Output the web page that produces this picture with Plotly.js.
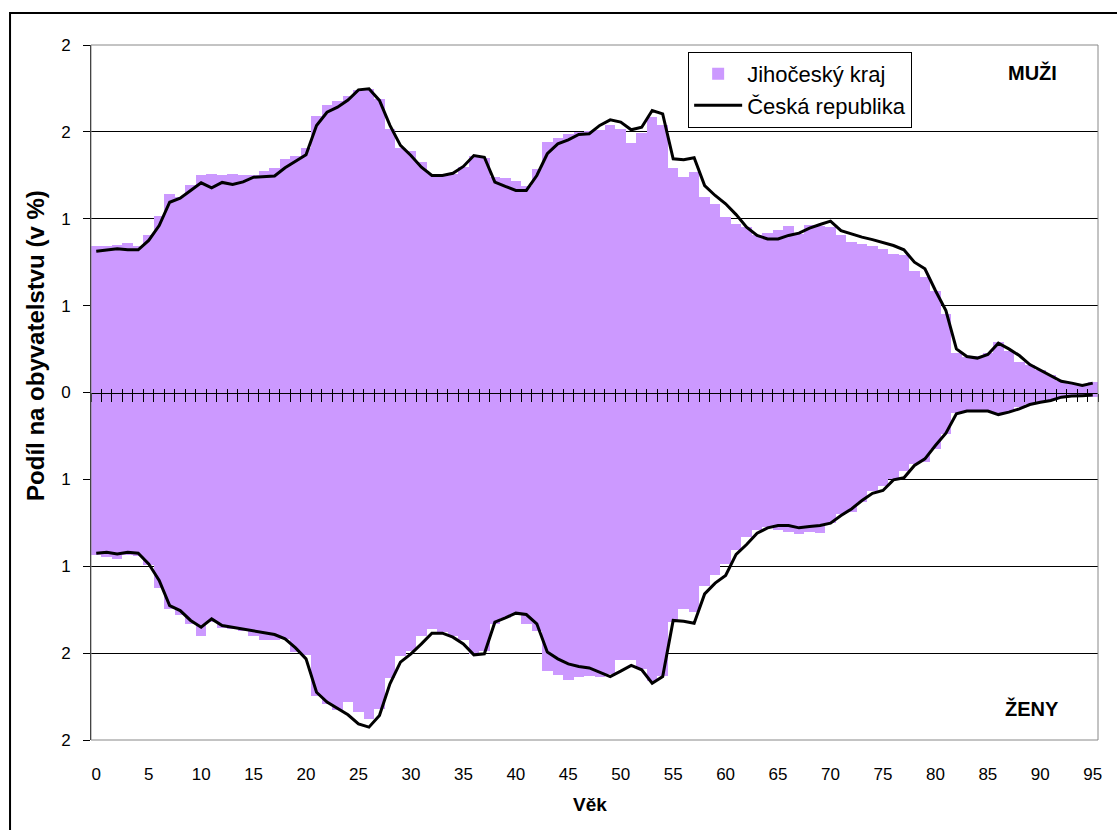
<!DOCTYPE html>
<html>
<head>
<meta charset="utf-8">
<script src="https://cdn.plot.ly/plotly-3.0.1.min.js"></script>
<style>
html,body{margin:0;padding:0;background:#fff;}
#chart{width:1117px;height:830px;}
</style>
</head>
<body>
<div id="chart"></div>
<script>
// Age categories (years); 95 = 95+
const ages = [0,1,2,3,4,5,6,7,8,9,10,11,12,13,14,15,16,17,18,19,20,21,22,23,24,25,26,27,28,29,
  30,31,32,33,34,35,36,37,38,39,40,41,42,43,44,45,46,47,48,49,50,51,52,53,54,55,56,57,58,59,
  60,61,62,63,64,65,66,67,68,69,70,71,72,73,74,75,76,77,78,79,80,81,82,83,84,85,86,87,88,89,
  90,91,92,93,94,95];

// Share of population (%), Jihočeský kraj – men
const krajMuzi = [0.842,0.842,0.850,0.863,0.844,0.906,1.015,1.140,1.124,1.197,
  1.251,1.259,1.253,1.259,1.249,1.249,1.274,1.291,1.345,1.360,
  1.408,1.589,1.656,1.677,1.704,1.740,1.745,1.690,1.518,1.410,
  1.389,1.326,1.260,1.250,1.255,1.300,1.360,1.350,1.240,1.236,
  1.220,1.186,1.287,1.441,1.466,1.489,1.497,1.503,1.512,1.537,
  1.518,1.435,1.493,1.585,1.537,1.293,1.239,1.268,1.128,1.086,
  1.009,0.971,0.950,0.904,0.917,0.936,0.961,0.913,0.965,0.959,
  0.952,0.909,0.865,0.856,0.846,0.827,0.798,0.789,0.698,0.664,
  0.587,0.453,0.226,0.207,0.210,0.226,0.290,0.240,0.175,0.157,
  0.127,0.098,0.069,0.050,0.046,0.058];

// Share of population (%), Jihočeský kraj – women
const krajZeny = [0.938,0.948,0.957,0.938,0.940,0.990,1.124,1.245,1.283,1.331,
  1.404,1.320,1.354,1.360,1.370,1.399,1.427,1.427,1.420,1.494,
  1.510,1.744,1.790,1.830,1.782,1.840,1.878,1.819,1.642,1.519,
  1.490,1.404,1.360,1.380,1.400,1.423,1.504,1.490,1.330,1.300,
  1.278,1.330,1.370,1.604,1.623,1.654,1.640,1.630,1.640,1.620,
  1.539,1.539,1.590,1.660,1.630,1.320,1.245,1.264,1.111,1.053,
  0.986,0.906,0.833,0.794,0.775,0.790,0.804,0.817,0.804,0.810,
  0.750,0.700,0.689,0.630,0.565,0.540,0.500,0.449,0.414,0.401,
  0.324,0.238,0.120,0.107,0.107,0.107,0.122,0.110,0.084,0.065,
  0.055,0.046,0.030,0.023,0.017,0.023];

// Share of population (%), Česká republika – men
const crMuzi = [0.813,0.821,0.827,0.821,0.821,0.875,0.961,1.095,1.118,1.163,
  1.207,1.178,1.209,1.197,1.212,1.239,1.243,1.246,1.293,1.329,
  1.368,1.537,1.613,1.642,1.683,1.742,1.748,1.681,1.537,1.422,
  1.364,1.297,1.249,1.249,1.262,1.301,1.364,1.354,1.211,1.186,
  1.163,1.163,1.249,1.374,1.431,1.454,1.485,1.489,1.537,1.569,
  1.556,1.512,1.527,1.623,1.604,1.345,1.340,1.351,1.191,1.134,
  1.086,1.024,0.952,0.904,0.884,0.884,0.904,0.917,0.946,0.967,
  0.986,0.932,0.913,0.894,0.880,0.865,0.846,0.821,0.750,0.712,
  0.587,0.472,0.251,0.207,0.198,0.219,0.284,0.251,0.213,0.161,
  0.130,0.098,0.065,0.054,0.040,0.054];

// Share of population (%), Česká republika – women
const crZeny = [0.925,0.919,0.929,0.919,0.925,0.986,1.082,1.226,1.255,1.312,
  1.351,1.303,1.341,1.351,1.360,1.370,1.379,1.393,1.418,1.470,
  1.533,1.725,1.782,1.821,1.855,1.907,1.926,1.859,1.677,1.552,
  1.504,1.447,1.385,1.385,1.408,1.447,1.510,1.504,1.322,1.297,
  1.270,1.278,1.331,1.494,1.533,1.562,1.577,1.585,1.610,1.635,
  1.604,1.571,1.596,1.673,1.635,1.312,1.316,1.328,1.159,1.097,
  1.053,0.932,0.875,0.810,0.779,0.765,0.765,0.779,0.771,0.765,
  0.752,0.708,0.670,0.622,0.580,0.564,0.503,0.491,0.420,0.382,
  0.305,0.234,0.123,0.107,0.107,0.107,0.127,0.113,0.094,0.069,
  0.056,0.046,0.027,0.020,0.018,0.015];

// Axis ticks
const xTickVals = [0,5,10,15,20,25,30,35,40,45,50,55,60,65,70,75,80,85,90,95];
const xTickText = ['0','5','10','15','20','25','30','35','40','45','50','55','60','65','70','75','80','85','90','95'];
const yTickVals = [-2,-1.5,-1,-0.5,0,0.5,1,1.5,2];
const yTickText = ['2','2','1','1','0','1','1','2','2'];

const seriesKraj = 'Jihočeský kraj';
const seriesCR = 'Česká republika';

const zenyNeg = krajZeny.map(v => -v);
const crZenyNeg = crZeny.map(v => -v);
const boundaries = ages.map(a => a - 0.5).concat([ages[ages.length - 1] + 0.5]);

const FONT = 'Liberation Sans, Arial, sans-serif';
const PURPLE = '#CC99FF';

const traces = [
  {type:'bar', x:ages, y:krajMuzi, name:seriesKraj, legendgroup:'kraj',
   marker:{color:PURPLE, line:{width:0}}, hoverinfo:'x+y'},
  {type:'bar', x:ages, y:zenyNeg, name:seriesKraj, legendgroup:'kraj', showlegend:false,
   marker:{color:PURPLE, line:{width:0}}, hoverinfo:'x+y'},
  {type:'scatter', mode:'lines', x:ages, y:crMuzi, name:seriesCR, legendgroup:'cr',
   line:{color:'#000', width:3}},
  {type:'scatter', mode:'lines', x:ages, y:crZenyNeg, name:seriesCR, legendgroup:'cr', showlegend:false,
   line:{color:'#000', width:3}},
  // carriers for the zero-axis tick marks (draw nothing themselves)
  {type:'scatter', mode:'none', x:ages, y:crMuzi, xaxis:'x2', yaxis:'y', showlegend:false, hoverinfo:'skip'},
  {type:'scatter', mode:'none', x:ages, y:crMuzi, xaxis:'x3', yaxis:'y', showlegend:false, hoverinfo:'skip'}
];

const xr = [-0.5, 95.5];

const layout = {
  width:1117, height:830,
  margin:{l:91, r:19, t:45, b:90},
  paper_bgcolor:'#fff', plot_bgcolor:'#fff',
  font:{family:FONT, color:'#000', size:17},
  barmode:'overlay', bargap:0,
  showlegend:true,
  legend:{x:0.593, y:0.99, xanchor:'left', yanchor:'top',
    bgcolor:'#fff', bordercolor:'#000', borderwidth:1,
    font:{family:FONT, size:22, color:'#000'}, itemwidth:48, tracegroupgap:0},
  xaxis:{range:xr, tickmode:'array', tickvals:xTickVals, ticktext:xTickText,
    ticks:'', showline:false, showgrid:false, zeroline:false,
    tickfont:{family:FONT, size:17, color:'#000'}, ticklabelstandoff:22, fixedrange:true},
  xaxis2:{overlaying:'x', anchor:'free', position:0.5, range:xr,
    tickmode:'array', tickvals:boundaries, ticks:'outside', ticklen:8, tickwidth:1, tickcolor:'#000',
    showticklabels:false, showline:true, linecolor:'#000', linewidth:1, showgrid:false, zeroline:false},
  xaxis3:{overlaying:'x', anchor:'free', position:0.5, range:xr,
    tickmode:'array', tickvals:boundaries, ticks:'inside', ticklen:4, tickwidth:1, tickcolor:'#000',
    showticklabels:false, showline:false, showgrid:false, zeroline:false},
  yaxis:{range:[-2,2], tickmode:'array', tickvals:yTickVals, ticktext:yTickText,
    ticks:'outside', ticklen:7, tickwidth:1, tickcolor:'#000',
    showline:true, linecolor:'#000', linewidth:1,
    showgrid:true, gridcolor:'#000', gridwidth:1, zeroline:false,
    tickfont:{family:FONT, size:17, color:'#000'}, ticklabelstandoff:9, fixedrange:true},
  shapes:[
    {type:'rect', xref:'paper', yref:'paper', x0:0, x1:1, y0:0, y1:1,
     line:{color:'#888', width:1}, fillcolor:'rgba(0,0,0,0)', layer:'above'},
    {type:'rect', xref:'paper', yref:'paper', x0:-0.0804, x1:1.1, y0:-0.3, y1:1.046,
     line:{color:'#000', width:2}, fillcolor:'rgba(0,0,0,0)', layer:'below'}
  ],
  annotations:[
    {text:'<b>Podíl na obyvatelstvu (v %)</b>', xref:'paper', yref:'paper',
     x:-0.0546, y:0.567, textangle:-90, showarrow:false, xanchor:'center', yanchor:'middle',
     font:{family:FONT, size:24, color:'#000'}},
    {text:'<b>Věk</b>', xref:'paper', yref:'paper', x:0.4955, y:-0.0935,
     showarrow:false, xanchor:'center', yanchor:'middle', font:{family:FONT, size:19, color:'#000'}},
    {text:'<b>MUŽI</b>', xref:'paper', yref:'paper', x:0.9345, y:0.96,
     showarrow:false, xanchor:'center', yanchor:'middle', font:{family:FONT, size:20, color:'#000'}},
    {text:'<b>ŽENY</b>', xref:'paper', yref:'paper', x:0.9345, y:0.046,
     showarrow:false, xanchor:'center', yanchor:'middle', font:{family:FONT, size:20, color:'#000'}}
  ]
};

Plotly.newPlot('chart', traces, layout, {displayModeBar:false, staticPlot:true});
</script>
</body>
</html>
